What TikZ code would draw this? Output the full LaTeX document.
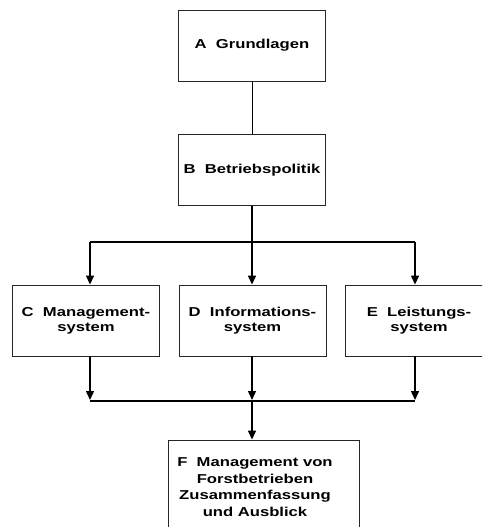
\documentclass[tikz,border=0pt]{standalone}
\usepackage{fontspec}
\setmainfont{Liberation Sans}[FakeStretch=1.29]
\usetikzlibrary{arrows.meta}

\begin{document}
\begin{tikzpicture}[x=1pt,y=-1pt,
  box/.style={draw=black!85, line width=0.9pt, minimum width=147pt,
    minimum height=71pt, inner sep=0pt},
  lbl/.style={font=\bfseries\fontsize{12.9}{15.2}\selectfont,
    align=center, inner sep=0pt},
  thinlink/.style={line width=1pt},
  link/.style={line width=1.4pt},
  bar/.style={line width=2pt},
  arr/.style={line width=1.4pt, -{Triangle[length=9pt,width=8pt]}}]
\useasboundingbox (0,0) rectangle (482,527);
\clip (0,0) rectangle (482,527);

% chapter boxes
\node[box, lbl] (A) at (252,45.5) {A\ \ Grundlagen};
\node[box, lbl] (B) at (252,170) {B\ \ Betriebspolitik};
\node[box, lbl] (C) at (86,320.5) {C\ \ Management-\\system};
\node[box, lbl] (D) at (252.5,320.5) {D\ \ Informations-\\system};
\node[box, lbl] (E) at (419,320.5) {E\ \ Leistungs-\\system};
\node[box, minimum width=191pt, minimum height=110pt] (F) at (263.5,495) {};
\node[lbl, font=\bfseries\fontsize{12.9}{16.7}\selectfont, anchor=north]
  (Ft) at (255,457.5) {F\ \ Management von\\Forstbetrieben\\Zusammenfassung\\und Ausblick};

% distribution bar below B
\coordinate (tl) at (90,242);
\coordinate (tm) at (252,242);
\coordinate (tr) at (415,242);
% collecting bar above F
\coordinate (bl) at (90,401);
\coordinate (bm) at (252,401);
\coordinate (br) at (415,401);

% thin link between A and B, on a whole pixel column
\coordinate (ab) at (252.5,0);
\draw[thinlink] (A.south -| ab) -- (B.north -| ab);
\draw[link] (B.south) -- (tm);
\draw[bar] (tl) -- (tr);
\draw[arr] (tl) -- (C.north -| tl);
\draw[arr] (tm) -- (D.north -| tm);
\draw[arr] (tr) -- (E.north -| tr);

\draw[arr, shorten >=1pt] (C.south -| bl) -- (bl);
\draw[arr, shorten >=1pt] (D.south -| bm) -- (bm);
\draw[arr, shorten >=1pt] (E.south -| br) -- (br);
\draw[bar] (bl) -- (br);
\draw[arr] (bm) -- (F.north -| bm);
\end{tikzpicture}
\end{document}
